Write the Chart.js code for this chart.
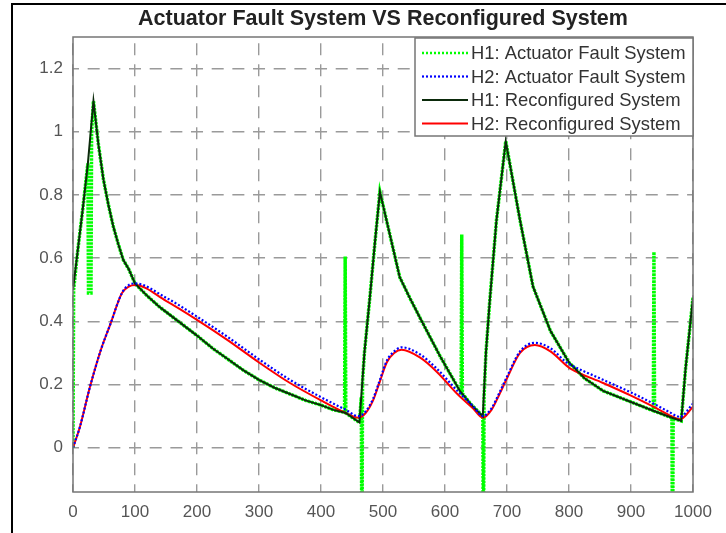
<!DOCTYPE html>
<html>
<head>
<meta charset="utf-8">
<title>Actuator Fault System VS Reconfigured System</title>
<script src="https://cdn.jsdelivr.net/npm/chart.js@4.4.1/dist/chart.umd.min.js"></script>
<style>
  html, body { margin: 0; padding: 0; background: #fff; overflow: hidden; }
  #wrap { position: relative; width: 726px; height: 533px; }
  #frame { position: absolute; left: 11px; top: 3px; width: 800px; height: 600px;
           border-left: 2px solid #000; border-top: 2px solid #000; pointer-events: none; }
</style>
</head>
<body>
<div id="wrap">
  <canvas id="grafica" width="726" height="533"></canvas>
  <div id="frame"></div>
</div>
<script>
// datos
var titulo = "Actuator Fault System VS Reconfigured System";
var etiquetas = ["H1: Actuator Fault System", "H2: Actuator Fault System",
                 "H1: Reconfigured System", "H2: Reconfigured System"];

var xTicks = [0, 100, 200, 300, 400, 500, 600, 700, 800, 900, 1000];
var yTicks = [0, 0.2, 0.4, 0.6, 0.8, 1, 1.2];

// H1 sistema reconfigurado (negro)
var tH1 = [0, 8, 16, 24, 33, 41, 49, 57, 65, 73, 81, 90, 100, 120, 140, 170, 200, 225, 250, 275, 300, 325, 350, 375, 400, 420, 440, 462,
           470, 479, 487, 495, 511, 527, 543, 560, 592, 624, 643, 661,
           666, 672, 683, 698, 721, 742, 770, 800, 825, 855, 900, 936, 966, 981, 988, 1000];
var h1Reconf = [0.50, 0.63, 0.76, 0.90, 1.097, 0.96, 0.85, 0.77, 0.70, 0.645, 0.595, 0.565, 0.52, 0.48, 0.445, 0.40, 0.355, 0.315, 0.28, 0.245, 0.215, 0.19, 0.17, 0.15, 0.135, 0.12, 0.11, 0.08,
                0.30, 0.48, 0.65, 0.81, 0.675, 0.54, 0.475, 0.41, 0.29, 0.18, 0.135, 0.10,
                0.30, 0.46, 0.72, 0.97, 0.72, 0.51, 0.37, 0.27, 0.22, 0.18, 0.145, 0.117, 0.095, 0.085, 0.25, 0.475];

// H1 sistema con falla (verde punteado, con picos)
var tH1Fault = [0, 1, 8, 16, 24, 25, 29, 30, 33, 41, 49, 57, 65, 73, 81, 90, 100, 120, 140, 170, 200, 225, 250, 275, 300, 325, 350, 375, 400, 420,
                438, 439, 440, 462, 465, 466, 467, 470, 479, 487, 495, 511, 527, 543, 560, 592,
                624, 626, 627, 628, 643, 661, 662, 663, 666, 672, 683, 698, 721, 742, 770, 800, 825, 855, 900,
                936, 937, 938, 966, 967, 968, 981, 988, 1000];
var h1Fault = [0, 0.50, 0.63, 0.76, 0.90, 0.49, 0.49, 1.00, 1.097, 0.96, 0.85, 0.77, 0.70, 0.645, 0.595, 0.565, 0.52, 0.48, 0.445, 0.40, 0.355, 0.315, 0.28, 0.245, 0.215, 0.19, 0.17, 0.15, 0.135, 0.12,
               0.112, 0.605, 0.11, 0.08, 0.16, -0.4, 0.21, 0.30, 0.48, 0.65, 0.81, 0.675, 0.54, 0.475, 0.41, 0.29,
               0.18, 0.175, 0.675, 0.172, 0.135, 0.10, -0.4, 0.16, 0.30, 0.46, 0.72, 0.97, 0.72, 0.51, 0.37, 0.27, 0.22, 0.18, 0.145,
               0.117, 0.62, 0.116, 0.095, -0.4, 0.093, 0.085, 0.25, 0.475];

// H2 (rojo reconfigurado, azul con falla)
var tH2 = [0, 11, 27, 45, 60, 79, 90, 100, 150, 200, 250, 300, 350, 400, 440, 460, 472, 484, 495, 506, 518, 530,
           560, 587, 620, 645, 661, 675, 688, 700, 721, 745, 770, 796, 803, 855, 900, 936, 960, 979, 1000];
var h2Reconf = [0, 0.065, 0.19, 0.31, 0.39, 0.49, 0.51, 0.515, 0.465, 0.405, 0.34, 0.27, 0.205, 0.15, 0.11, 0.095, 0.11, 0.15, 0.21, 0.27, 0.30, 0.31,
                0.285, 0.24, 0.17, 0.125, 0.095, 0.12, 0.17, 0.22, 0.30, 0.325, 0.305, 0.26, 0.25, 0.205, 0.165, 0.13, 0.105, 0.09, 0.13];
var h2Fault = [0, 0.065, 0.19, 0.31, 0.39, 0.49, 0.515, 0.52, 0.475, 0.415, 0.35, 0.28, 0.215, 0.16, 0.12, 0.10, 0.115, 0.155, 0.215, 0.275, 0.305, 0.318,
               0.295, 0.25, 0.18, 0.132, 0.10, 0.125, 0.175, 0.225, 0.305, 0.332, 0.315, 0.27, 0.262, 0.215, 0.175, 0.14, 0.115, 0.098, 0.14];

function puntos(ts, vs) {
  var p = [];
  for (var i = 0; i < ts.length; i++) {
    p.push({ x: ts[i], y: vs[i] });
  }
  return p;
}

var fuente = '"Liberation Sans", Arial, sans-serif';

// titulo, leyenda y marco dibujados encima
var marco = {
  id: 'marco',
  afterDraw: function (chart) {
    var ctx = chart.ctx;
    var a = chart.chartArea;
    ctx.save();
    ctx.setLineDash([]);
    ctx.strokeStyle = '#767676';
    ctx.lineWidth = 1.5;
    ctx.strokeRect(a.left, a.top, a.right - a.left, a.bottom - a.top);

    ctx.fillStyle = '#222';
    ctx.font = 'bold 21.5px ' + fuente;
    ctx.textAlign = 'center';
    ctx.textBaseline = 'middle';
    ctx.fillText(titulo, (a.left + a.right) / 2, 19);

    // leyenda
    var lw = 278, lh = 98;
    var lx = a.right - lw, ly = a.top + 1;
    ctx.fillStyle = '#fff';
    ctx.fillRect(lx, ly, lw, lh);
    ctx.strokeStyle = '#767676';
    ctx.lineWidth = 1.5;
    ctx.strokeRect(lx, ly, lw, lh);
    var ds = chart.data.datasets;
    ctx.font = '18.4px ' + fuente;
    ctx.textAlign = 'left';
    for (var i = 0; i < etiquetas.length; i++) {
      var yy = ly + 15 + i * 23.5;
      ctx.strokeStyle = ds[i].borderColor;
      ctx.lineWidth = ds[i].borderWidth > 2.5 ? 2.5 : ds[i].borderWidth;
      ctx.setLineDash(i < 2 ? [2, 2] : []);
      ctx.beginPath();
      ctx.moveTo(lx + 7, yy);
      ctx.lineTo(lx + 53, yy);
      ctx.stroke();
      ctx.setLineDash([]);
      ctx.fillStyle = '#333';
      ctx.fillText(etiquetas[i], lx + 56, yy + 1);
    }
    ctx.restore();
  }
};

function etiqueta(v) { return String(v); }

var ctx = document.getElementById("grafica").getContext("2d");
window.myLine = new Chart(ctx, {
  type: 'line',
  data: {
    datasets: [
      { label: etiquetas[0], data: puntos(tH1Fault, h1Fault), borderColor: '#00ff00', borderWidth: 3.5,
        borderDash: [2.5, 1], tension: 0, order: 3 },
      { label: etiquetas[1], data: puntos(tH2, h2Fault), borderColor: '#0000ff', borderWidth: 2.2,
        borderDash: [2, 2], cubicInterpolationMode: 'monotone', order: 0 },
      { label: etiquetas[2], data: puntos(tH1, h1Reconf), borderColor: '#0b2a0b', borderWidth: 2,
        tension: 0, order: 1 },
      { label: etiquetas[3], data: puntos(tH2, h2Reconf), borderColor: '#ff0000', borderWidth: 2,
        cubicInterpolationMode: 'monotone', order: 2 }
    ]
  },
  options: {
    responsive: false,
    animation: false,
    parsing: false,
    elements: { point: { radius: 0 } },
    layout: { padding: { left: 0, right: 33, top: 37, bottom: 0 } },
    plugins: {
      legend: { display: false },
      title: { display: false },
      tooltip: { enabled: false }
    },
    scales: {
      x: {
        type: 'linear',
        min: 0,
        max: 1000,
        afterBuildTicks: function (scale) {
          scale.ticks = xTicks.map(function (v) { return { value: v }; });
        },
        afterFit: function (scale) { scale.height = 41; },
        grid: { color: '#9a9a9a', lineWidth: 1.4, drawTicks: false },
        border: { display: false, dash: [12, 9], dashOffset: 14.8 },
        ticks: { color: '#555', padding: 10, maxRotation: 0, callback: etiqueta, font: { family: fuente, size: 17 } }
      },
      y: {
        type: 'linear',
        min: -0.14,
        max: 1.3,
        afterBuildTicks: function (scale) {
          scale.ticks = yTicks.map(function (v) { return { value: v }; });
        },
        afterFit: function (scale) { scale.width = 73; },
        grid: { color: '#9a9a9a', lineWidth: 1.4, drawTicks: false },
        border: { display: false, dash: [12, 8.67], dashOffset: 6 },
        ticks: { color: '#555', padding: 10, callback: etiqueta, font: { family: fuente, size: 17 } }
      }
    }
  },
  plugins: [marco]
});
</script>
</body>
</html>
